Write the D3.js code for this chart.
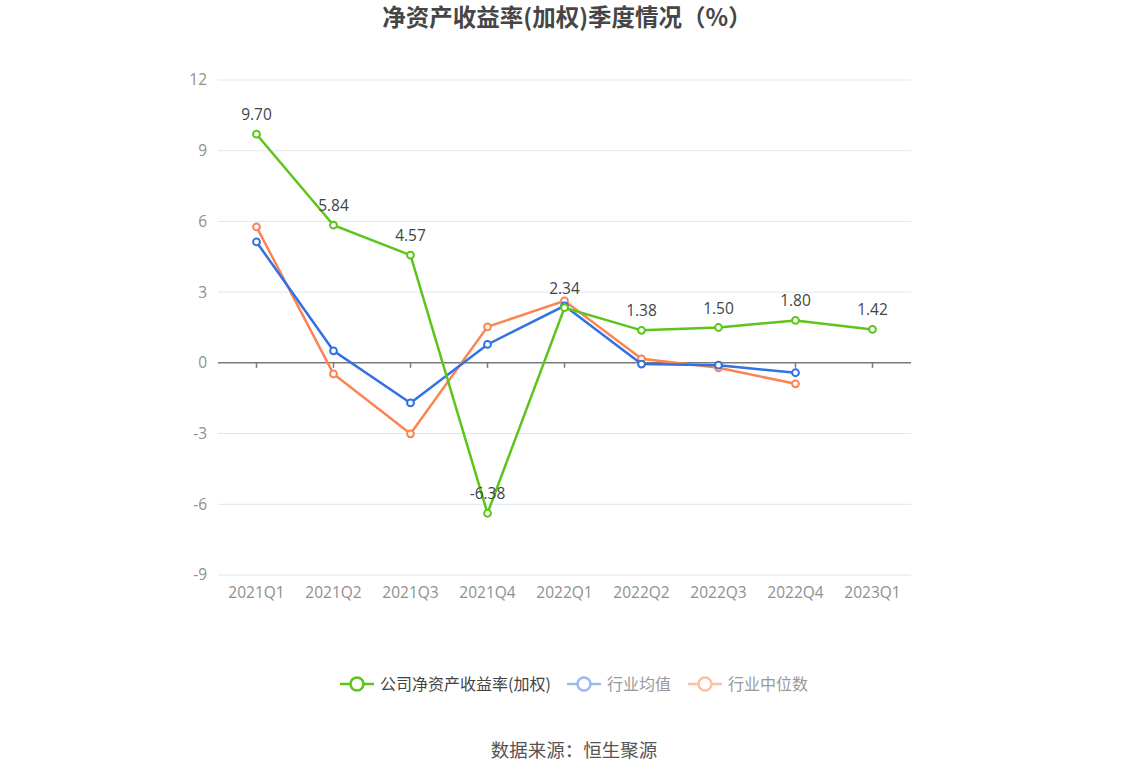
<!DOCTYPE html>
<html>
<head>
<meta charset="utf-8">
<script src="https://cdn.jsdelivr.net/npm/d3@7/dist/d3.min.js"></script>
<style>
  body { margin: 0; background: #fff; }
  svg { font-family: "Noto Sans CJK SC", "Noto Sans", sans-serif; }
  .num { font-family: "Open Sans", "Noto Sans", sans-serif; }
</style>
</head>
<body>
<svg id="chart" width="1148" height="776"></svg>
<script>
var quarters = ['2021Q1', '2021Q2', '2021Q3', '2021Q4', '2022Q1', '2022Q2', '2022Q3', '2022Q4', '2023Q1'];
var companyRoe = [9.70, 5.84, 4.57, -6.38, 2.34, 1.38, 1.50, 1.80, 1.42];
var industryMean = [5.13, 0.51, -1.70, 0.78, 2.42, -0.05, -0.10, -0.42];
var industryMedian = [5.77, -0.47, -3.01, 1.53, 2.63, 0.17, -0.21, -0.89];
var yTicks = [-9, -6, -3, 0, 3, 6, 9, 12];

var margin = { left: 218, right: 237, top: 80, bottom: 201 },
    width = 1148, height = 776,
    svg = d3.select('#chart');

var x = d3.scaleBand().domain(quarters).range([margin.left, width - margin.right]);
var y = d3.scaleLinear().domain([-9, 12]).range([height - margin.bottom, margin.top]);
var cx = function(d, i) { return x(quarters[i]) + x.bandwidth() / 2; };

// title
svg.append('text')
    .attr('x', 567).attr('y', 26)
    .attr('text-anchor', 'middle')
    .attr('font-size', 23.5).attr('font-weight', 'bold')
    .attr('fill', '#464646')
    .text('净资产收益率(加权)季度情况（%）');

// grid
svg.append('g').selectAll('line').data(yTicks.filter(function(t) { return t !== 0; }))
    .enter().append('line')
    .attr('x1', margin.left).attr('x2', width - margin.right)
    .attr('y1', y).attr('y2', y)
    .attr('stroke', '#e0e6f1').attr('stroke-width', 1);

svg.append('g').selectAll('text').data(yTicks)
    .enter().append('text')
    .attr('class', 'num')
    .attr('x', margin.left - 11).attr('y', y).attr('dy', '0.35em')
    .attr('text-anchor', 'end')
    .attr('font-size', 15.5).attr('fill', '#8f8f8f')
    .text(function(d) { return d; });

// zero axis with ticks
svg.append('line')
    .attr('x1', margin.left).attr('x2', width - margin.right)
    .attr('y1', y(0)).attr('y2', y(0))
    .attr('stroke', '#7a7a7a').attr('stroke-width', 1.5);
svg.append('g').selectAll('line').data(quarters)
    .enter().append('line')
    .attr('x1', function(d, i) { return cx(d, i); }).attr('x2', function(d, i) { return cx(d, i); })
    .attr('y1', y(0)).attr('y2', y(0) + 5)
    .attr('stroke', '#7a7a7a').attr('stroke-width', 1.5);

svg.append('g').selectAll('text').data(quarters)
    .enter().append('text')
    .attr('class', 'num')
    .attr('x', function(d, i) { return cx(d, i); })
    .attr('y', y(-9) + 23)
    .attr('text-anchor', 'middle')
    .attr('font-size', 15.5).attr('fill', '#8f8f8f')
    .text(function(d) { return d; });

// series
var series = [
    { name: '行业中位数', values: industryMedian, color: '#fb8452' },
    { name: '行业均值', values: industryMean, color: '#3271e5' },
    { name: '公司净资产收益率(加权)', values: companyRoe, color: '#5cc51a' }
];

var line = d3.line().x(cx).y(function(d) { return y(d); });

series.forEach(function(s) {
    var g = svg.append('g');
    g.append('path')
        .datum(s.values)
        .attr('d', line)
        .attr('fill', 'none')
        .attr('stroke', s.color).attr('stroke-width', 2.5);
    g.selectAll('circle').data(s.values)
        .enter().append('circle')
        .attr('cx', cx).attr('cy', function(d) { return y(d); })
        .attr('r', 3.4)
        .attr('fill', '#fff')
        .attr('stroke', s.color).attr('stroke-width', 2);
});

// labels for company
svg.append('g').selectAll('text').data(companyRoe)
    .enter().append('text')
    .attr('class', 'num')
    .attr('x', cx)
    .attr('y', function(d) { return y(d) - 14; })
    .attr('text-anchor', 'middle')
    .attr('font-size', 15.5).attr('fill', '#444')
    .text(function(d) { return d.toFixed(2); });

// legend
var legend = [
    { name: '公司净资产收益率(加权)', color: '#5cc51a', text: '#444', x: 340 },
    { name: '行业均值', color: '#9db8f2', text: '#999', x: 567 },
    { name: '行业中位数', color: '#fdbfa5', text: '#999', x: 688 }
];
var lg = svg.append('g').selectAll('g').data(legend).enter().append('g')
    .attr('transform', function(d) { return 'translate(' + d.x + ',684)'; });
lg.append('line')
    .attr('x1', 0).attr('x2', 34)
    .attr('stroke', function(d) { return d.color; }).attr('stroke-width', 2.5);
lg.append('circle')
    .attr('cx', 17).attr('r', 6.5)
    .attr('fill', '#fff')
    .attr('stroke', function(d) { return d.color; }).attr('stroke-width', 2.5);
lg.append('text')
    .attr('x', 40).attr('dy', '0.35em')
    .attr('font-size', 16)
    .attr('fill', function(d) { return d.text; })
    .text(function(d) { return d.name; });

// source
svg.append('text')
    .attr('x', 574).attr('y', 757)
    .attr('text-anchor', 'middle')
    .attr('font-size', 18.5).attr('fill', '#555')
    .text('数据来源：恒生聚源');
</script>
</body>
</html>
